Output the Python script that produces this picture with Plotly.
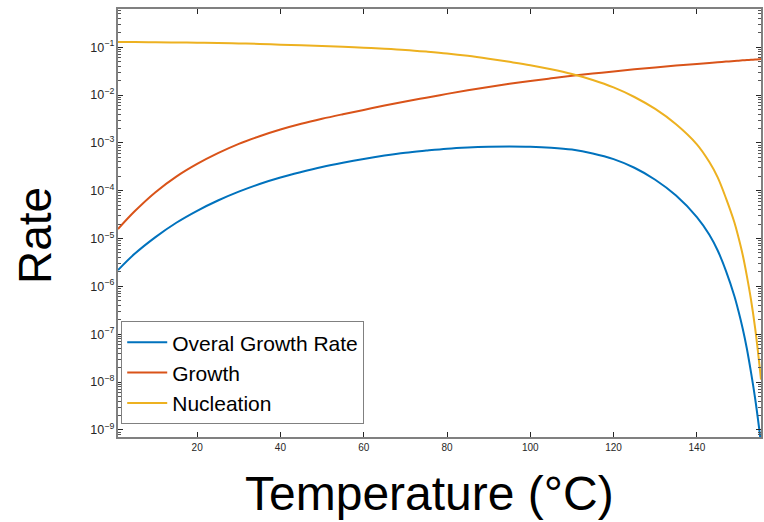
import plotly.graph_objects as go

temperature = [1, 5, 10, 15, 20, 25, 30, 35, 40, 45, 50, 55, 60, 65, 70, 75, 80, 85,
               90, 95, 100, 105, 110, 115, 120, 125, 130, 135, 140, 143, 145, 147,
               149, 150, 151, 152, 153, 154, 155, 155.4]

# log10 of the rates
overall_log = [-5.66, -5.32, -4.97, -4.67, -4.42, -4.205, -4.02, -3.86, -3.725, -3.61,
               -3.505, -3.415, -3.335, -3.265, -3.205, -3.16, -3.12, -3.095, -3.08,
               -3.075, -3.08, -3.10, -3.14, -3.22, -3.34, -3.52, -3.77, -4.10, -4.55,
               -4.92, -5.25, -5.68, -6.20, -6.52, -6.88, -7.30, -7.80, -8.35, -9.00,
               -9.30]
growth_log = [-4.80, -4.43, -4.03, -3.705, -3.44, -3.215, -3.02, -2.86, -2.72, -2.60,
              -2.495, -2.40, -2.31, -2.22, -2.135, -2.055, -1.975, -1.90, -1.83,
              -1.765, -1.705, -1.65, -1.597, -1.55, -1.505, -1.462, -1.422, -1.384,
              -1.348, -1.327, -1.313, -1.30, -1.287, -1.28, -1.274, -1.268, -1.262,
              -1.256, -1.25, -1.247]
nucleation_log = [-0.89, -0.892, -0.895, -0.90, -0.905, -0.91, -0.92, -0.93, -0.945,
                  -0.96, -0.975, -0.99, -1.01, -1.03, -1.055, -1.09, -1.13, -1.18,
                  -1.24, -1.305, -1.375, -1.46, -1.56, -1.685, -1.84, -2.04, -2.29,
                  -2.61, -3.03, -3.40, -3.72, -4.16, -4.66, -4.98, -5.34, -5.78,
                  -6.28, -6.88, -7.62, -7.95]

overall = [10 ** v for v in overall_log]
growth = [10 ** v for v in growth_log]
nucleation = [10 ** v for v in nucleation_log]

series_names = ["Overal Growth Rate", "Growth", "Nucleation"]
colors = ["#0072BD", "#D95319", "#EDB120"]

FONT = "Liberation Sans, Arial, sans-serif"
AXIS_COLOR = "#808080"

fig = go.Figure()
for name, vals, col in zip(series_names, [overall, growth, nucleation], colors):
    fig.add_trace(go.Scatter(x=temperature, y=vals, mode="lines", name=name,
                             line=dict(color=col, width=2, shape="spline")))

fig.update_layout(
    width=764, height=522,
    margin=dict(l=118, r=1, t=9, b=85),
    paper_bgcolor="white", plot_bgcolor="white",
    font=dict(family=FONT, color="#262626"),
    showlegend=True,
    legend=dict(x=0.005, y=0.03, xanchor="left", yanchor="bottom",
                bgcolor="white", bordercolor=AXIS_COLOR, borderwidth=1,
                font=dict(size=21, color="#000000", family=FONT),
                tracegroupgap=0, itemwidth=40),
    xaxis=dict(range=[1, 155.4], tick0=0, dtick=20, showgrid=False, zeroline=False,
               ticks="inside", ticklen=5, tickcolor="#262626", tickwidth=1,
               showline=True, linecolor=AXIS_COLOR, linewidth=1.5, mirror="ticks",
               tickfont=dict(size=10, color="#262626")),
    yaxis=dict(type="log", range=[-9.15, -0.2], dtick=1, showgrid=False, zeroline=False,
               exponentformat="power", showexponent="all",
               ticks="inside", ticklen=5, tickcolor="#262626", tickwidth=1,
               showline=True, linecolor=AXIS_COLOR, linewidth=1.5, mirror="ticks",
               tickfont=dict(size=10, color="#262626"),
               minor=dict(ticks="inside", ticklen=3, dtick="D1", tickcolor="#555555",
                          showgrid=False)),
    annotations=[
        dict(text="Rate", xref="paper", yref="paper", x=-0.1287, y=0.470,
             xanchor="center", yanchor="middle", textangle=-90, showarrow=False,
             font=dict(size=46, color="#000000", family=FONT)),
        dict(text="Temperature (°C)", xref="paper", yref="paper", x=0.4845, y=-0.133,
             xanchor="center", yanchor="middle", showarrow=False,
             font=dict(size=48, color="#000000", family=FONT)),
    ],
)

fig.write_html("out.html",
               config={"displayModeBar": False},
               post_script="document.body.style.margin='0';"
                           "document.documentElement.style.overflow='hidden';")
